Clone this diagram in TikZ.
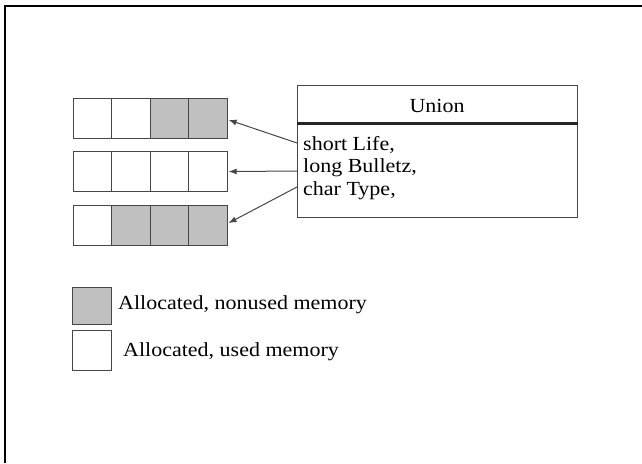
\documentclass[tikz,border=0pt]{standalone}
\usepackage{fontspec}
\setmainfont{Liberation Serif}[FakeStretch=1.1]
\usetikzlibrary{arrows.meta,calc}
\definecolor{cellgray}{RGB}{192,192,192}
\definecolor{cellline}{RGB}{70,70,70}
\tikzset{
  cell/.style={draw=cellline, line width=1.1pt, minimum width=38.5pt, minimum height=40pt, inner sep=0pt, anchor=north west},
  used/.style={cell, fill=white},
  unused/.style={cell, fill=cellgray},
  lbl/.style={font=\fontsize{20}{23}\selectfont, inner sep=0pt, anchor=west},
  field/.style={font=\fontsize{20}{23}\selectfont, inner xsep=6pt, inner ysep=0pt, anchor=west},
  ptr/.style={draw=cellline, line width=1pt, -{Latex[length=8pt,width=6pt]}, shorten >=1pt},
}
\begin{document}
\begin{tikzpicture}[x=1pt,y=-1pt]
\useasboundingbox (0,0) rectangle (642,463);
% frame (top and left only)
\draw[line width=2pt] (5,463) -- (5,6) -- (642,6);
% memory rows
\node[used]   (c11) at (72.5,98) {};
\node[used]   (c12) at (111,98) {};
\node[unused] (c13) at (149.5,98) {};
\node[unused] (c14) at (188,98) {};
\node[used]   (c21) at (72.5,151) {};
\node[used]   (c22) at (111,151) {};
\node[used]   (c23) at (149.5,151) {};
\node[used]   (c24) at (188,151) {};
\node[used]   (c31) at (72.5,205) {};
\node[unused] (c32) at (111,205) {};
\node[unused] (c33) at (149.5,205) {};
\node[unused] (c34) at (188,205) {};
% union box
\node[draw=cellline, line width=1.3pt, minimum width=280pt, minimum height=132pt, inner sep=0pt, anchor=north west] (union) at (297,85) {};
\node[lbl, anchor=center] (title) at (437,106) {Union};
\draw[line width=3pt, draw=black!85] ($(union.north west)+(0,38)$) coordinate (sepL) -- ($(union.north east)+(0,38)$) coordinate (sepR);
\node[field] (f1) at (297,145) {short Life,};
\node[field] (f2) at (297,168) {long Bulletz,};
\node[field] (f3) at (297,191) {char Type,};
% pointers
\draw[ptr] ($(f1.west)+(0,-2)$) -- ($(c14.east)+(0,1)$);
\draw[ptr] ($(f2.west)+(0,3)$) -- (c24.east);
\draw[ptr] ($(f3.west)+(0,-4)$) -- ($(c34.east)+(0,-2)$);
% legend
\node[cell, fill=cellgray, minimum height=37pt] (lg1) at (72,287) {};
\node[cell, fill=white, minimum height=40pt] (lg2) at (72,330) {};
\node[lbl] (lt1) at (118,305) {Allocated, nonused memory};
\node[lbl] (lt2) at (123,352) {Allocated, used memory};
\end{tikzpicture}
\end{document}
